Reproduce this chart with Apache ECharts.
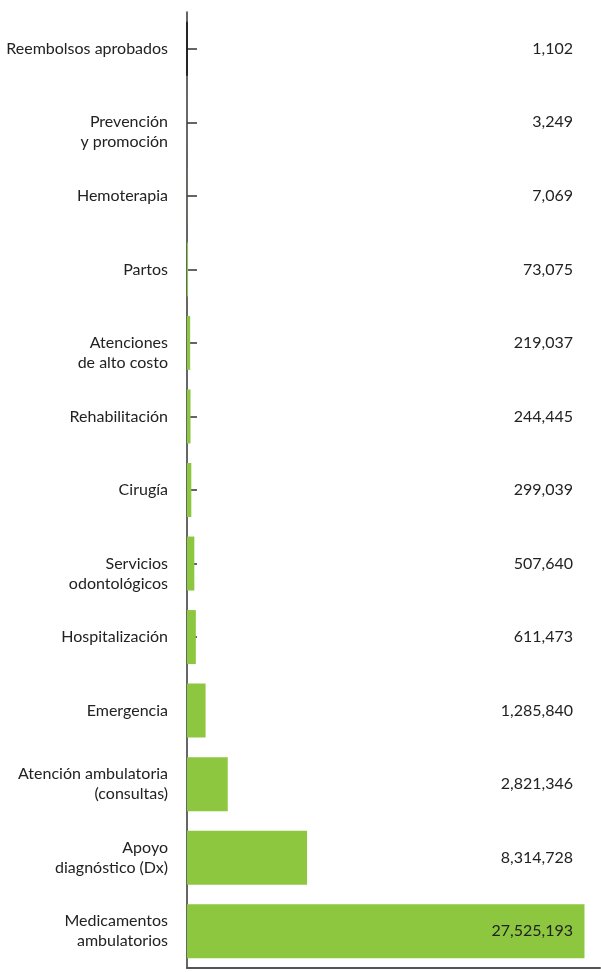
<!DOCTYPE html>
<html>
<head>
<meta charset="utf-8">
<script src="https://cdn.jsdelivr.net/npm/echarts@6/dist/echarts.min.js"></script>
<style>
  html, body { margin: 0; padding: 0; background: #fff; }
  #chart { width: 601px; height: 972px; }
</style>
</head>
<body>
<div id="chart"></div>
<script>
const categories = [
  'Reembolsos aprobados',
  'Prevención\ny promoción',
  'Hemoterapia',
  'Partos',
  'Atenciones\nde alto costo',
  'Rehabilitación',
  'Cirugía',
  'Servicios\nodontológicos',
  'Hospitalización',
  'Emergencia',
  'Atención ambulatoria\n(consultas)',
  'Apoyo\ndiagnóstico (Dx)',
  'Medicamentos\nambulatorios'
]
const values = [1102, 3249, 7069, 73075, 219037, 244445, 299039, 507640, 611473, 1285840, 2821346, 8314728, 27525193]

// in the original these two-line labels start at the tick instead of being centred on it
const topAligned = [1, 4, 7]

const fmt = (v) => v.toLocaleString('en-US')
const font = 'Lato, "Noto Sans", sans-serif'

const chart = echarts.init(document.getElementById('chart'))

chart.setOption({
  animation: false,
  grid: { left: 187, right: 1, top: 12, bottom: 4, containLabel: false },
  xAxis: {
    type: 'value',
    position: 'bottom',
    min: 0,
    max: 28600000,
    axisLine: { show: true, onZero: false, lineStyle: { color: '#555', width: 2 } },
    axisTick: { show: false },
    axisLabel: { show: false },
    splitLine: { show: false }
  },
  yAxis: [
    {
      type: 'category',
      data: categories,
      inverse: true,
      axisLine: { show: true, onZero: false, lineStyle: { color: '#333', width: 1.5 } },
      axisTick: { show: true, inside: true, length: 10, alignWithLabel: true, lineStyle: { color: '#333', width: 1.5 } },
      axisLabel: {
        margin: 19,
        color: '#222',
        fontFamily: font,
        fontSize: 16,
        lineHeight: 20,
        align: 'right',
        formatter: (v, i) => topAligned.includes(i) ? '\n' + v : v
      }
    },
    {
      type: 'category',
      data: values.map(fmt),
      inverse: true,
      position: 'right',
      z: 10,
      axisLine: { show: false },
      axisTick: { show: false },
      axisLabel: {
        inside: true,
        margin: 27,
        color: '#222',
        fontFamily: font,
        fontSize: 16,
        align: 'right'
      }
    }
  ],
  series: [
    {
      type: 'bar',
      barWidth: 54,
      data: values.map((v, i) => i === 0
        ? { value: v, itemStyle: { color: '#111', borderColor: '#111', borderWidth: 1 } }
        : v),
      itemStyle: { color: '#8dc63f' }
    }
  ]
})

window.addEventListener('resize', () => chart.resize())
</script>
</body>
</html>
